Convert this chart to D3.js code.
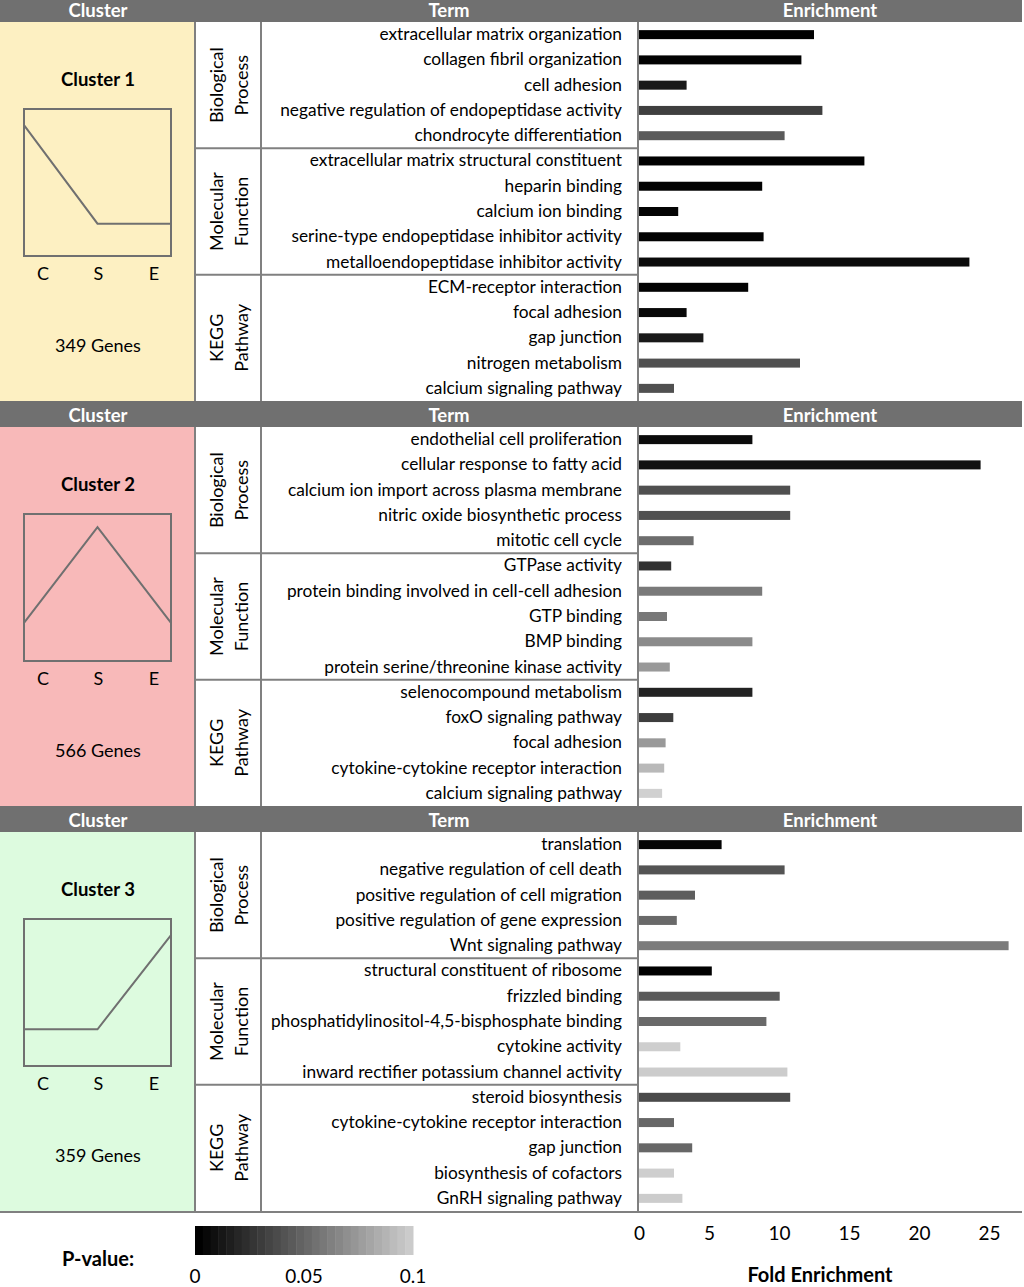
<!DOCTYPE html>
<html>
<head>
<meta charset="utf-8">
<script src="https://cdn.jsdelivr.net/npm/d3@7"></script>
<style>
  body { margin: 0; background: #fff; }
  svg { display: block; font-family: Lato, "Open Sans", sans-serif; }
</style>
</head>
<body>
<div id="chart"></div>
<script>
// cluster panels
var clusterNames = ["Cluster 1", "Cluster 2", "Cluster 3"];
var geneCounts = ["349 Genes", "566 Genes", "359 Genes"];
var panelColors = ["#fdf0c2", "#f8b9b9", "#ddfbdf"];
var stages = ["C", "S", "E"];
var profiles = [
    [0.89, 0.22, 0.22],
    [0.26, 0.91, 0.26],
    [0.25, 0.25, 0.89]
];
var categories = [["Biological", "Process"], ["Molecular", "Function"], ["KEGG", "Pathway"]];

var termsC1 = ["extracellular matrix organization", "collagen fibril organization", "cell adhesion",
    "negative regulation of endopeptidase activity", "chondrocyte differentiation",
    "extracellular matrix structural constituent", "heparin binding", "calcium ion binding",
    "serine-type endopeptidase inhibitor activity", "metalloendopeptidase inhibitor activity",
    "ECM-receptor interaction", "focal adhesion", "gap junction", "nitrogen metabolism", "calcium signaling pathway"];
var foldC1 = [12.5, 11.6, 3.4, 13.1, 10.4, 16.1, 8.8, 2.8, 8.9, 23.6, 7.8, 3.4, 4.6, 11.5, 2.5];
var pvalC1 = [0.001, 0.001, 0.012, 0.030, 0.043, 0.0005, 0.001, 0.002, 0.001, 0.005, 0.001, 0.004, 0.012, 0.038, 0.038];

var termsC2 = ["endothelial cell proliferation", "cellular response to fatty acid",
    "calcium ion import across plasma membrane", "nitric oxide biosynthetic process", "mitotic cell cycle",
    "GTPase activity", "protein binding involved in cell-cell adhesion", "GTP binding", "BMP binding",
    "protein serine/threonine kinase activity", "selenocompound metabolism", "foxO signaling pathway",
    "focal adhesion", "cytokine-cytokine receptor interaction", "calcium signaling pathway"];
var foldC2 = [8.1, 24.4, 10.8, 10.8, 3.9, 2.3, 8.8, 2.0, 8.1, 2.2, 8.1, 2.45, 1.9, 1.8, 1.65];
var pvalC2 = [0.005, 0.008, 0.038, 0.038, 0.052, 0.024, 0.058, 0.057, 0.066, 0.073, 0.016, 0.029, 0.073, 0.088, 0.099];

var termsC3 = ["translation", "negative regulation of cell death", "positive regulation of cell migration",
    "positive regulation of gene expression", "Wnt signaling pathway", "structural constituent of ribosome",
    "frizzled binding", "phosphatidylinositol-4,5-bisphosphate binding", "cytokine activity",
    "inward rectifier potassium channel activity", "steroid biosynthesis", "cytokine-cytokine receptor interaction",
    "gap junction", "biosynthesis of cofactors", "GnRH signaling pathway"];
var foldC3 = [5.9, 10.4, 4.0, 2.7, 26.4, 5.2, 10.05, 9.1, 2.95, 10.6, 10.8, 2.5, 3.8, 2.5, 3.1];
var pvalC3 = [0.002, 0.040, 0.045, 0.050, 0.059, 0.0003, 0.043, 0.050, 0.098, 0.097, 0.035, 0.049, 0.049, 0.098, 0.097];

var foldTicks = [0, 5, 10, 15, 20, 25];
var pTicks = [0, 0.05, 0.1];

var width = 1024, height = 1287;
var colCat = 195, colTerm = 261, colBar = 638, colEnd = 1022;
var blockH = 405, headH = 26, firstTop = -4;
var lineColor = "#808080", headColor = "#707070";

var clusters = [
    { terms: termsC1, fold: foldC1, pval: pvalC1 },
    { terms: termsC2, fold: foldC2, pval: pvalC2 },
    { terms: termsC3, fold: foldC3, pval: pvalC3 }
];

var scaleX = d3.scaleLinear().domain([0, 25]).range([639, 989]);
var pColor = d3.scaleLinear().domain([0, 0.1]).range(["#000000", "#d2d2d2"]);
var profX = d3.scalePoint().domain(stages).range([24, 171]);
var labelX = d3.scalePoint().domain(stages).range([43, 154]);

var svg = d3.select("#chart").append("svg")
    .attr("width", width)
    .attr("height", height);

clusters.forEach(function (cl, c) {
    var top = firstTop + c * blockH;
    var bodyTop = top + headH, bodyBottom = top + blockH;
    var g = svg.append("g");

    var rowY = d3.scaleBand().domain(d3.range(cl.terms.length)).range([bodyTop, bodyBottom]);

    // header strip
    g.append("rect")
        .attr("x", 0).attr("y", top)
        .attr("width", colEnd).attr("height", headH)
        .attr("fill", headColor);
    [["Cluster", 98], ["Term", 449], ["Enrichment", 830]].forEach(function (h) {
        g.append("text")
            .attr("x", h[1]).attr("y", top + headH / 2 + 1)
            .attr("text-anchor", "middle")
            .attr("dominant-baseline", "central")
            .attr("fill", "#fff")
            .attr("font-weight", "bold")
            .attr("font-size", "18.5px")
            .text(h[0]);
    });

    // coloured cluster panel
    g.append("rect")
        .attr("x", 0).attr("y", bodyTop)
        .attr("width", colCat).attr("height", bodyBottom - bodyTop)
        .attr("fill", panelColors[c]);

    g.append("text")
        .attr("x", 98).attr("y", top + 83)
        .attr("text-anchor", "middle")
        .attr("dominant-baseline", "central")
        .attr("font-weight", "bold")
        .attr("font-size", "18.5px")
        .text(clusterNames[c]);

    var boxTop = top + 113, boxBottom = top + 260;
    var profY = d3.scaleLinear().domain([0, 1]).range([boxBottom, boxTop]);
    g.append("rect")
        .attr("x", 24).attr("y", boxTop)
        .attr("width", 147).attr("height", boxBottom - boxTop)
        .attr("fill", "none")
        .attr("stroke", headColor)
        .attr("stroke-width", 2);
    g.append("path")
        .datum(profiles[c])
        .attr("d", d3.line()
            .x(function (d, i) { return profX(stages[i]); })
            .y(function (d) { return profY(d); }))
        .attr("fill", "none")
        .attr("stroke", headColor)
        .attr("stroke-width", 2);
    g.selectAll(".stage")
        .data(stages)
        .enter()
        .append("text")
            .attr("x", function (s) { return labelX(s); })
            .attr("y", top + 277)
            .attr("text-anchor", "middle")
            .attr("dominant-baseline", "central")
            .attr("font-size", "18px")
            .text(function (s) { return s; });

    g.append("text")
        .attr("x", 98).attr("y", top + 349)
        .attr("text-anchor", "middle")
        .attr("dominant-baseline", "central")
        .attr("font-size", "18px")
        .text(geneCounts[c]);

    // white table area
    g.append("rect")
        .attr("x", colCat).attr("y", bodyTop)
        .attr("width", colBar - colCat).attr("height", bodyBottom - bodyTop)
        .attr("fill", "#fff");

    // category labels, 5 rows each
    categories.forEach(function (cat, k) {
        var y0 = rowY(k * 5), y1 = rowY(k * 5 + 4) + rowY.bandwidth();
        var t = g.append("text")
            .attr("transform", `translate(${(colCat + colTerm) / 2},${(y0 + y1) / 2}) rotate(-90)`)
            .attr("text-anchor", "middle")
            .attr("font-size", "18px");
        t.append("tspan").attr("x", 0).attr("y", -5).text(cat[0]);
        t.append("tspan").attr("x", 0).attr("y", 20).text(cat[1]);

        if (k > 0) {
            g.append("line")
                .attr("x1", colCat).attr("x2", colBar)
                .attr("y1", y0).attr("y2", y0)
                .attr("stroke", lineColor)
                .attr("stroke-width", 2);
        }
    });

    // terms
    g.selectAll(".term")
        .data(cl.terms)
        .enter()
        .append("text")
            .attr("x", 622)
            .attr("y", function (d, i) { return rowY(i) + rowY.bandwidth() / 2 - 1; })
            .attr("text-anchor", "end")
            .attr("dominant-baseline", "central")
            .attr("font-size", "17.3px")
            .text(function (d) { return d; });

    // bars
    g.selectAll(".bar")
        .data(cl.fold)
        .enter()
        .append("rect")
            .attr("x", scaleX(0))
            .attr("y", function (d, i) { return rowY(i) + rowY.bandwidth() / 2 - 4.5; })
            .attr("width", function (d) { return scaleX(d) - scaleX(0); })
            .attr("height", 9)
            .attr("fill", function (d, i) { return pColor(cl.pval[i]); });

    // vertical grid lines
    [colCat, colTerm, colBar].forEach(function (x) {
        g.append("line")
            .attr("x1", x).attr("x2", x)
            .attr("y1", bodyTop).attr("y2", bodyBottom)
            .attr("stroke", lineColor)
            .attr("stroke-width", 2);
    });
});

// bottom rule
svg.append("line")
    .attr("x1", 0).attr("x2", colEnd)
    .attr("y1", firstTop + 3 * blockH + 1).attr("y2", firstTop + 3 * blockH + 1)
    .attr("stroke", lineColor)
    .attr("stroke-width", 2);

// fold enrichment axis
var axisX = d3.axisBottom(scaleX).tickValues(foldTicks).tickSize(0).tickPadding(0);
var axisG = svg.append("g")
    .attr("transform", "translate(0,1226)")
    .call(axisX);
axisG.select(".domain").remove();
axisG.selectAll("text")
    .attr("font-family", "Lato, sans-serif")
    .attr("font-size", "19px")
    .attr("fill", "#000");

svg.append("text")
    .attr("x", 820).attr("y", 1274)
    .attr("text-anchor", "middle")
    .attr("dominant-baseline", "central")
    .attr("font-weight", "bold")
    .attr("font-size", "20px")
    .text("Fold Enrichment");

// p-value legend
var legendX = d3.scaleLinear().domain([0, 0.1]).range([195, 413]);
var steps = d3.range(0, 0.1, 0.1 / 28);
svg.selectAll(".legend-step")
    .data(steps)
    .enter()
    .append("rect")
        .attr("x", function (d) { return legendX(d); })
        .attr("y", 1226)
        .attr("width", legendX(0.1 / 28) - legendX(0) + 0.5)
        .attr("height", 29)
        .attr("fill", function (d) { return pColor(d); });

svg.append("text")
    .attr("x", 98).attr("y", 1258)
    .attr("text-anchor", "middle")
    .attr("dominant-baseline", "central")
    .attr("font-weight", "bold")
    .attr("font-size", "20px")
    .text("P-value:");

svg.selectAll(".legend-tick")
    .data(pTicks)
    .enter()
    .append("text")
        .attr("x", function (d) { return legendX(d); })
        .attr("y", 1275)
        .attr("text-anchor", "middle")
        .attr("dominant-baseline", "central")
        .attr("font-size", "19px")
        .text(function (d) { return d === 0 ? "0" : String(d); });
</script>
</body>
</html>
